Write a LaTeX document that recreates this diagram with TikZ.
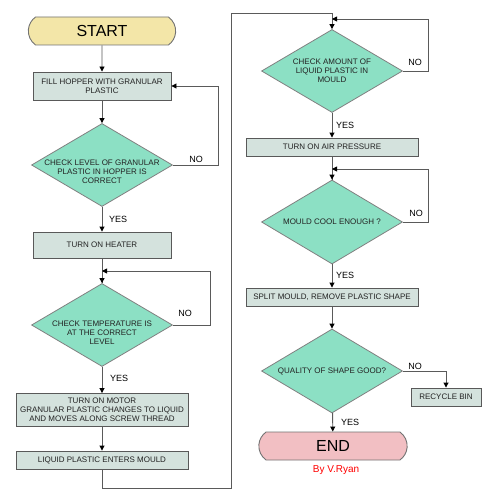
\documentclass[tikz,border=0pt]{standalone}
\usepackage{fontspec}
\setmainfont{Liberation Sans}
\usetikzlibrary{
    arrows.meta,
    shapes.geometric,
    shapes.misc,
    positioning
}
\definecolor{termy}{HTML}{F3E6A8}
\definecolor{termp}{HTML}{F2BFC3}
\definecolor{boxg}{HTML}{D4E2DD}
\definecolor{decg}{HTML}{8CE0C4}
\definecolor{lineg}{HTML}{5A5A5A}
\definecolor{txtg}{HTML}{222222}
\tikzset{proc/.style={rectangle, draw=black!65, line width=0.9pt, fill=boxg, inner sep=1pt, align=center, text=txtg, font=\fontsize{8}{9}\selectfont}}
\tikzset{dec/.style={diamond, draw=black!50, line width=0.8pt, fill=decg, minimum width=141pt, minimum height=83pt, aspect=1.7, inner sep=-12pt, align=center, text=txtg, font=\fontsize{8}{9}\selectfont}}
\tikzset{term/.style={rounded rectangle, rounded rectangle arc length=110, draw=black!55, line width=0.9pt, minimum width=154pt, minimum height=28pt, font=\fontsize{16}{18}\selectfont}}
\tikzset{arr/.style={draw=lineg, line width=0.9pt, -{Triangle[black, length=5pt, width=5pt]}}}
\tikzset{lin/.style={draw=lineg, line width=0.9pt}}
\tikzset{lab/.style={inner sep=0pt, font=\fontsize{9}{10}\selectfont}}
\newcommand{\lowtxt}{\rule{0pt}{20pt}}

\begin{document}
\begin{tikzpicture}[x=1pt, y=-1pt]
    \fill[white] (0, 0) rectangle (500, 500);
    \useasboundingbox (0, 0) rectangle (500, 500);

    % left column
    \node[term, fill=termy] (start) at (102, 31) {START};
    \node[proc, minimum width=138pt, minimum height=28pt] (fill) at (102, 86) {FILL HOPPER WITH GRANULAR\\PLASTIC};
    \node[dec] (chk1) at (102, 165) {\lowtxt CHECK LEVEL OF GRANULAR\\PLASTIC IN HOPPER IS\\CORRECT};
    \node[proc, minimum width=138pt, minimum height=26pt] (heat) at (102, 245) {TURN ON HEATER};
    \node[dec] (chk2) at (102, 325) {\lowtxt CHECK TEMPERATURE IS\\AT THE CORRECT\\LEVEL};
    \node[proc, minimum width=172pt, minimum height=33pt] (motor) at (102, 410) {TURN ON MOTOR\\GRANULAR PLASTIC CHANGES TO LIQUID\\AND MOVES ALONG SCREW THREAD};
    \node[proc, minimum width=172pt, minimum height=18pt] (enter) at (102, 460) {LIQUID PLASTIC ENTERS MOULD};

    % right column
    \node[dec] (chk3) at (332, 71) {CHECK AMOUNT OF\\LIQUID PLASTIC IN\\MOULD};
    \node[proc, minimum width=172pt, minimum height=18pt] (air) at (332, 147) {TURN ON AIR PRESSURE};
    \node[dec, minimum height=84pt] (chk4) at (332, 222) {MOULD COOL ENOUGH ?};
    \node[proc, minimum width=172pt, minimum height=18pt] (split) at (332, 297) {SPLIT MOULD, REMOVE PLASTIC SHAPE};
    \node[dec, minimum height=84pt] (chk5) at (332, 371) {QUALITY OF SHAPE GOOD?};
    \node[proc, minimum width=70pt, minimum height=18pt] (bin) at (446, 397) {RECYCLE BIN};
    \node[term, fill=termp, minimum width=155pt] (end) at (333, 446) {END};
    \node[inner sep=0pt, text=red, font=\fontsize{10}{12}\selectfont] (by) at (336, 470) {By V.Ryan};

    \coordinate (j2) at (102, 271);
    \coordinate (j3) at (332, 19);
    \coordinate (j4) at (332, 169);
    \coordinate (lo) at (231, 488);
    \coordinate (hi) at (231, 13);

    \node[lab] (no1) at (196, 159) {NO};
    \node[lab] (no2) at (185, 313) {NO};
    \node[lab] (no3) at (415, 62) {NO};
    \node[lab] (no4) at (416, 213) {NO};
    \node[lab] (no5) at (415, 366) {NO};
    \node[lab, anchor=west] (yes1) at (109, 219) {YES};
    \node[lab, anchor=west] (yes2) at (110, 378) {YES};
    \node[lab, anchor=west] (yes3) at (336, 125) {YES};
    \node[lab, anchor=west] (yes4) at (336, 275) {YES};
    \node[lab, anchor=west] (yes5) at (341, 422) {YES};

    \draw[arr] (start) -- (fill);
    \draw[arr] (fill) -- (chk1);
    \draw[arr] (chk1.east) -- ++(46, 0) |- (fill.east);
    \draw[arr] (chk1) -- (heat);
    \draw[lin] (heat) -- (chk2);
    \draw[arr] (j2) -- (chk2);
    \draw[arr] (chk2.east) -- ++(38, 0) |- (j2);
    \draw[arr] (chk2) -- (motor);
    \draw[arr] (motor) -- (enter);
    \draw[arr] (enter) |- (lo) -- (hi) -| (chk3);
    \draw[arr] (chk3.east) -- ++(26, 0) |- (j3);
    \draw[arr] (chk3) -- (air);
    \draw[lin] (air) -- (chk4);
    \draw[arr] (j4) -- (chk4);
    \draw[arr] (chk4.east) -- ++(26, 0) |- (j4);
    \draw[arr] (chk4) -- (split);
    \draw[arr] (split) -- (chk5);
    \draw[arr] (chk5.east) -| (bin);
    \draw[arr] (chk5) -- (end);
\end{tikzpicture}
\end{document}
